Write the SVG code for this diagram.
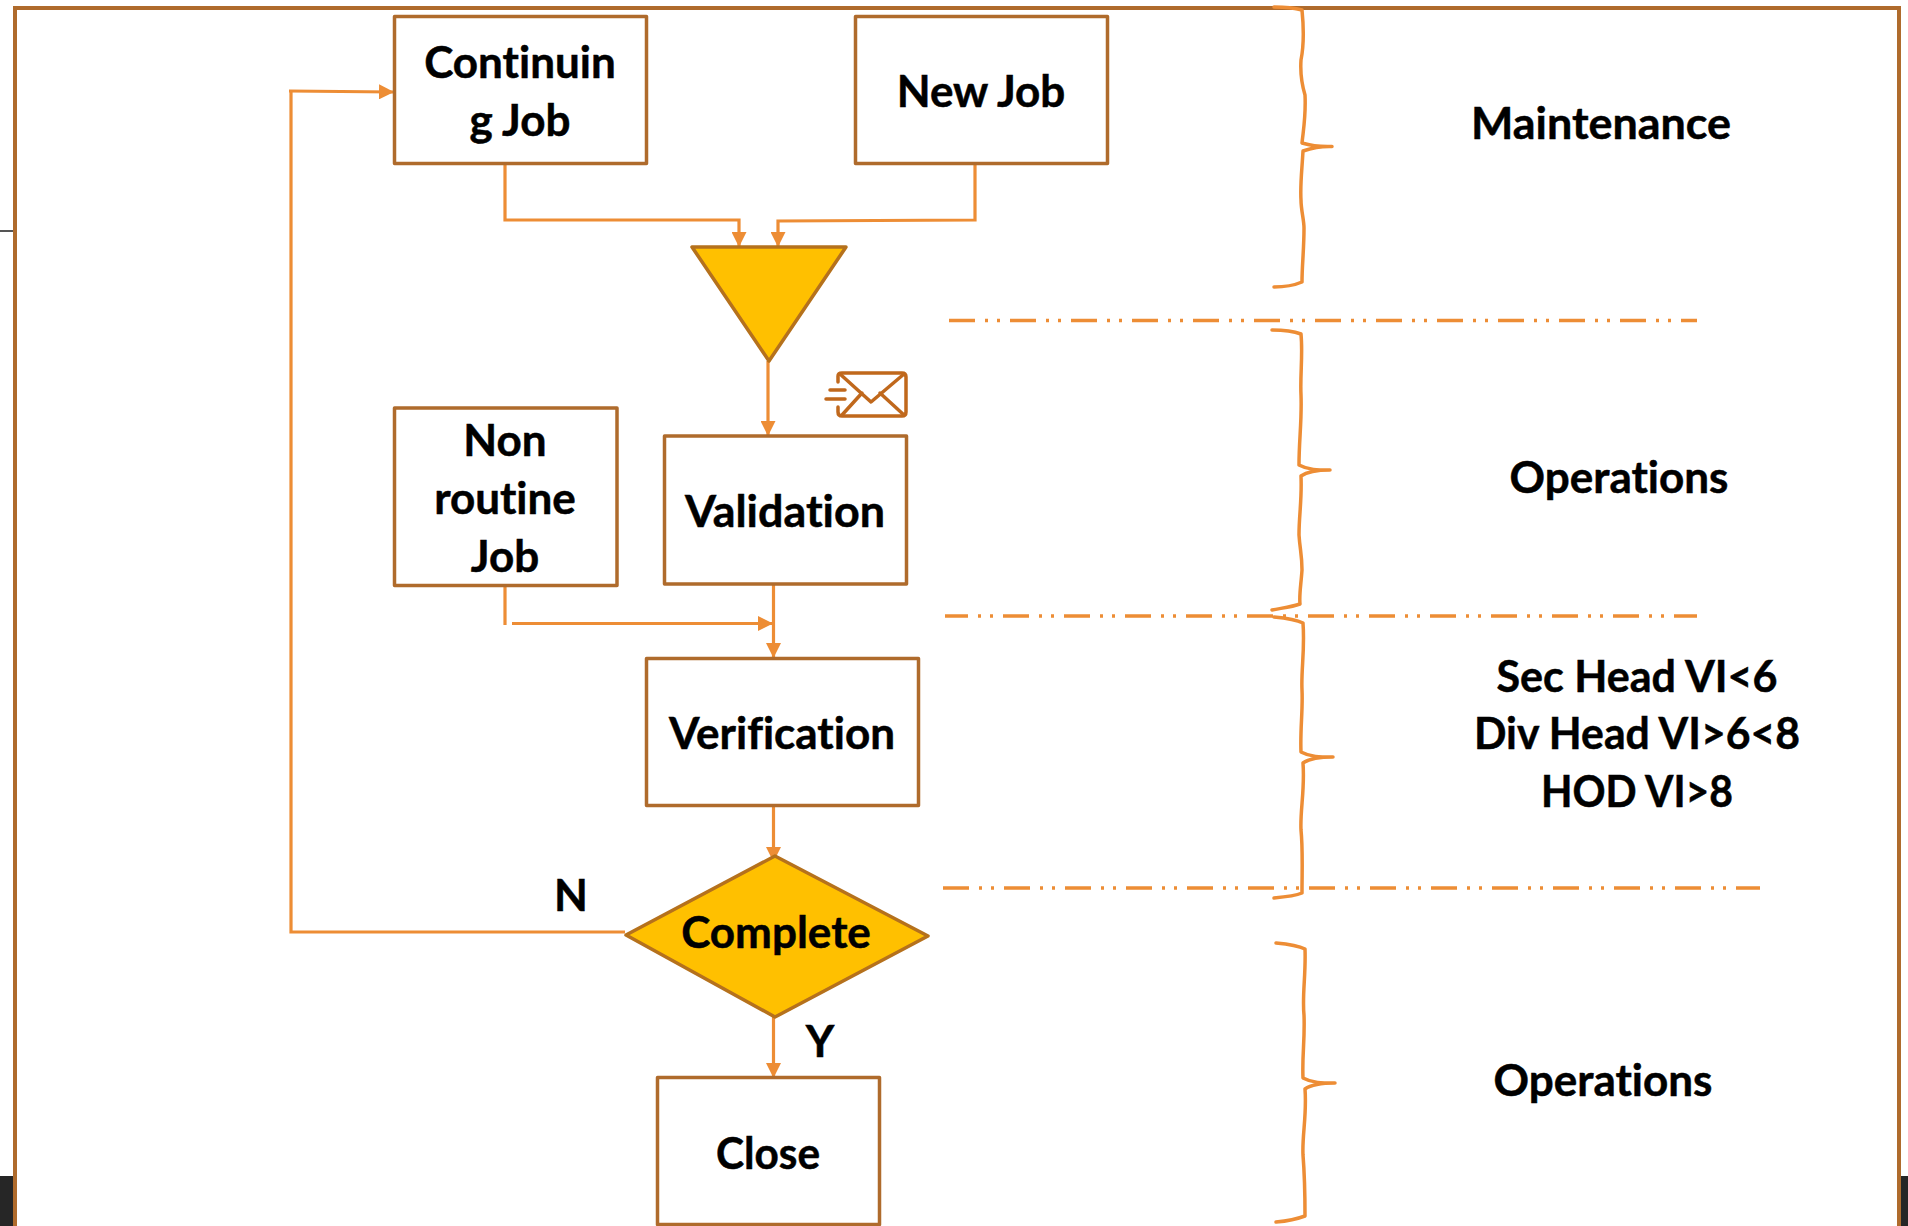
<svg xmlns="http://www.w3.org/2000/svg" width="1908" height="1226" viewBox="0 0 1908 1226">
<style>
.box{fill:#fff;stroke:#AF6B2C;stroke-width:3.500;stroke-linejoin:round}
.gold{fill:#FFC000;stroke:#B5711C;stroke-width:3.500;stroke-linejoin:round}
.c{fill:none;stroke:#ED8D35;stroke-width:3.200}
.a{marker-end:url(#arrow)}
.dash{fill:none;stroke:#ED8D35;stroke-width:3.500;stroke-dasharray:26 10 3 9 3 10}
.brace{fill:none;stroke:#ED8D35;stroke-width:3.500;stroke-linecap:round;stroke-linejoin:round}
.env{fill:none;stroke:#C0681C;stroke-width:3.500;stroke-linecap:round;stroke-linejoin:round}
text{font-family:"Lato","Carlito","Liberation Sans",sans-serif;font-weight:700;font-size:44px;fill:#000;text-anchor:middle;font-variant-ligatures:none;stroke:#000;stroke-width:.5}
</style>
<defs>
<marker id="arrow" markerUnits="userSpaceOnUse" markerWidth="15" markerHeight="15" refX="14" refY="7.5" orient="auto">
<path d="M0 0L15 7.5L0 15Z" fill="#ED8D35"/>
</marker>
</defs>
<rect width="1908" height="1226" fill="#fff"/>
<g id="backdrop">
<rect x="0" y="1176" width="14" height="50" fill="#262626"/>
<rect x="1900" y="1176" width="8" height="50" fill="#262626"/>
<line x1="0" y1="231" x2="14" y2="231" stroke="#555" stroke-width="2"/>
<path d="M15 1226V8H1899V1226" fill="none" stroke="#AF6B2C" stroke-width="4"/>
</g>
<g id="connectors">
<path class="c a" d="M289 91L393 92"/>
<path class="c" d="M291 91V932H625"/>
<path class="c a" d="M505 164V220H739V246"/>
<path class="c a" d="M975 164V220L778 221V246"/>
<path class="c a" d="M768 361V435"/>
<path class="c a" d="M773.500 579V657"/>
<path class="c" d="M505 586V625"/>
<path class="c a" d="M512 623.500H772"/>
<path class="c a" d="M773.500 800V861"/>
<path class="c a" d="M773.500 1017V1077"/>
</g>
<g id="dividers">
<path class="dash" d="M949 320.500H1697"/>
<path class="dash" d="M945 616H1697" stroke-dashoffset="3"/>
<path class="dash" d="M943 888H1760"/>
</g>
<g id="braces">
<path class="brace" d="M1274 7C1285 7 1295 8 1302 10C1304 30 1304 45 1301 60C1300 75 1302 85 1305 95C1306 115 1304 125 1302 143C1312 146 1320 147 1332 146.500C1320 146 1312 148 1303 151C1302 170 1300 185 1301 200C1301 210 1304 220 1304 228C1304 250 1302 265 1302 282C1295 285 1285 287 1274 287"/>
<path class="brace" d="M1272 330C1283 330 1293 331 1301 334C1303 355 1300 375 1301 395C1302 420 1299 440 1299 465C1308 470 1318 470 1330 470C1318 470 1308 471 1301 476C1302 500 1299 515 1299 535C1300 550 1302 555 1302 570C1301 585 1299 595 1300 604C1292 607 1282 608 1272 610"/>
<path class="brace" d="M1274 617C1285 618 1295 619 1303 623C1305 650 1301 670 1302 690C1303 710 1300 730 1301 752C1310 757 1320 757 1333 757C1320 757 1310 758 1303 763C1305 790 1300 810 1301 830C1303 850 1302 870 1302 893C1295 896 1285 897 1274 898"/>
<path class="brace" d="M1276 943C1287 944 1297 945 1305 949C1306 975 1302 995 1304 1015C1305 1040 1302 1055 1303 1078C1312 1083 1322 1083 1335 1083C1322 1083 1312 1084 1305 1089C1307 1115 1302 1135 1303 1155C1305 1180 1305 1195 1305 1216C1297 1219 1287 1221 1276 1222"/>
</g>
<g id="continuing-job"><rect class="box" x="394.500" y="16.500" width="252" height="147"/>
<text x="520" y="78">Continuin</text><text x="520" y="136">g Job</text></g>
<g id="new-job"><rect class="box" x="855.500" y="16.500" width="252" height="147"/>
<text x="981" y="107">New Job</text></g>
<g id="merge"><path class="gold" d="M692 247H846L769 361Z"/></g>
<g id="validation"><rect class="box" x="664.500" y="436" width="242" height="148"/>
<text x="785" y="527" textLength="200" lengthAdjust="spacingAndGlyphs">Validation</text></g>
<g id="non-routine-job"><rect class="box" x="394.500" y="408" width="222.500" height="177.500"/>
<text x="505" y="456">Non</text><text x="505" y="514">routine</text><text x="505" y="572">Job</text></g>
<g id="verification"><rect class="box" x="646.500" y="658.500" width="272" height="147"/>
<text x="782" y="749">Verification</text></g>
<g id="complete"><path class="gold" d="M626 935L775 856L928 936L775 1017Z"/>
<text x="776" y="948">Complete</text></g>
<g id="close"><rect class="box" x="657.500" y="1077.500" width="222" height="147"/>
<text x="768" y="1169" textLength="104" lengthAdjust="spacingAndGlyphs">Close</text></g>
<g id="envelope">
<path class="env" d="M838 382V376Q838 373 842 373H902Q906 373 906 377V412Q906 416 902 416H842Q838 416 838 412V407"/>
<path class="env" d="M840 374L871 402L904 374M842 415L862 393M880 393L904 415M830 390H845M826 399H845"/>
</g>
<g id="labels">
<text x="571" y="911">N</text>
<text x="820" y="1057">Y</text>
<text x="1601" y="139" textLength="260" lengthAdjust="spacingAndGlyphs">Maintenance</text>
<text x="1619" y="493">Operations</text>
<text x="1637" y="692" textLength="281" lengthAdjust="spacingAndGlyphs">Sec Head VI&lt;6</text>
<text x="1637" y="749" textLength="326" lengthAdjust="spacingAndGlyphs">Div Head VI&gt;6&lt;8</text>
<text x="1637" y="807" textLength="192" lengthAdjust="spacingAndGlyphs">HOD VI&gt;8</text>
<text x="1603" y="1096">Operations</text>
</g>
</svg>
